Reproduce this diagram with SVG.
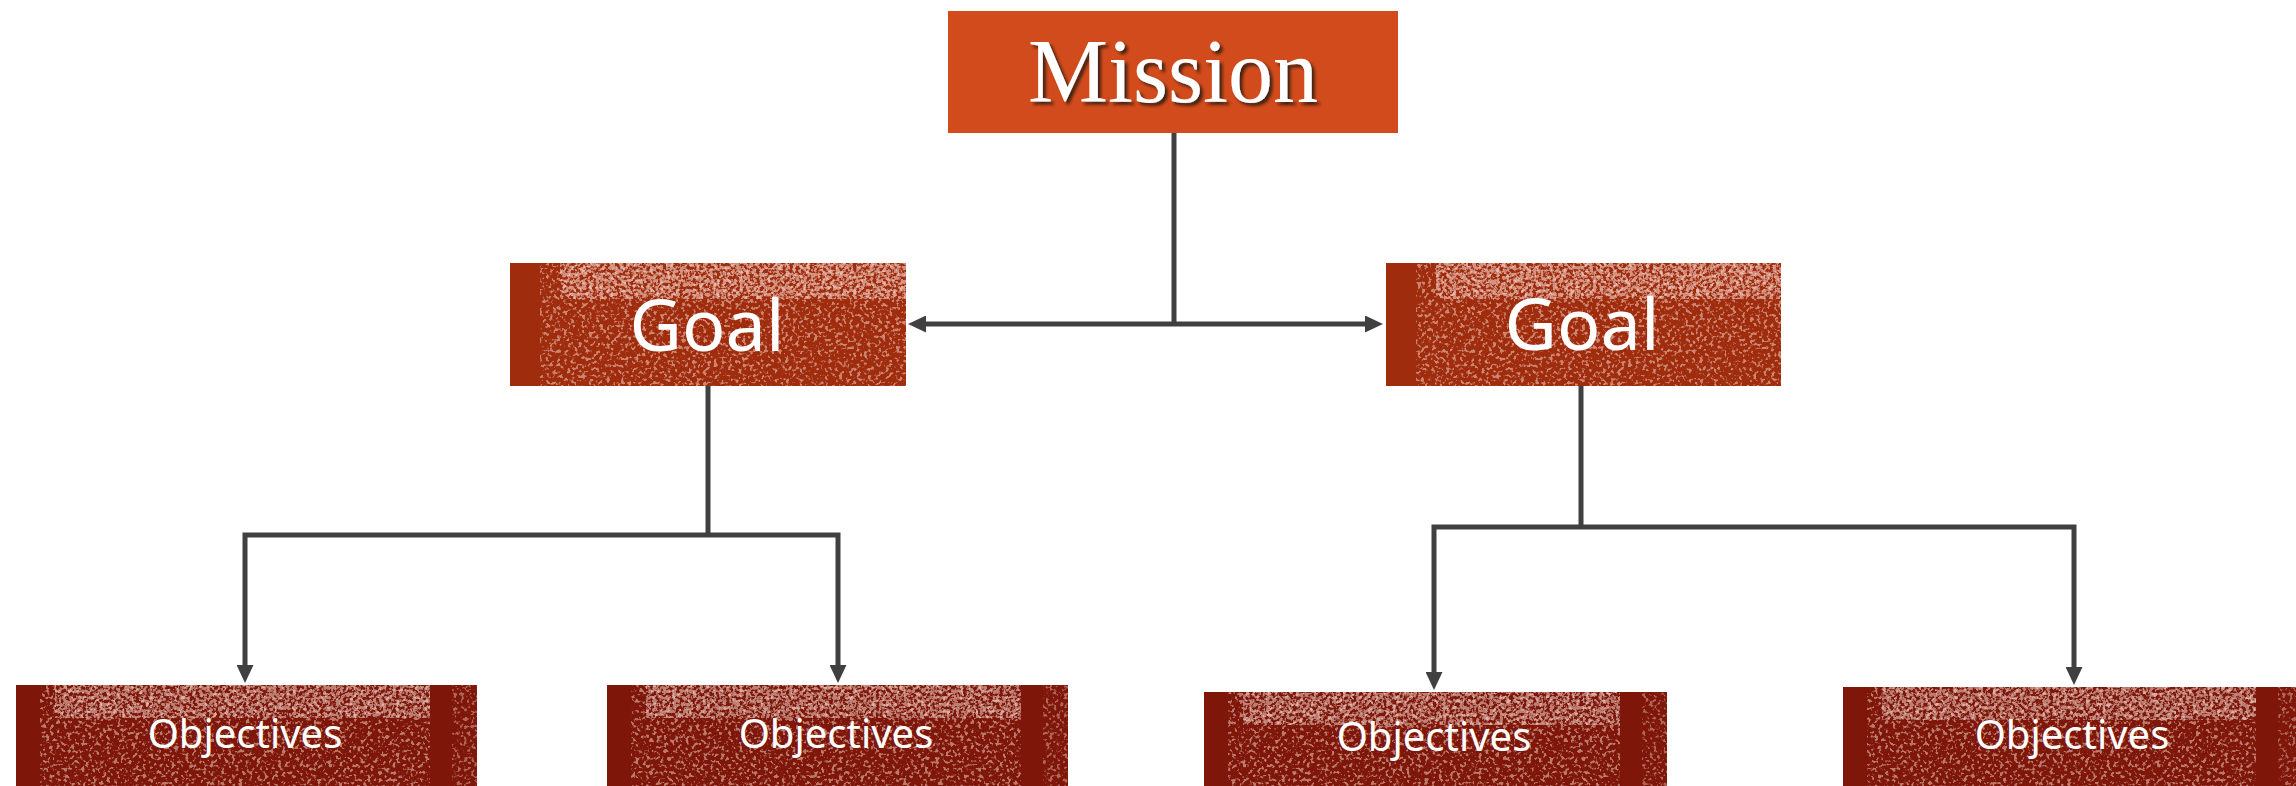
<svg xmlns="http://www.w3.org/2000/svg" width="2296" height="786" viewBox="0 0 2296 786">
<style>
.conn{fill:none;stroke:#404040;stroke-width:5;stroke-linejoin:miter}
.mission{fill:#D24B1C}
.goalbase{fill:#A02C0E}
.objbase{fill:#7E1709}
.lbl{fill:#FFFFFF;text-anchor:middle}
.goaltxt{font-family:"Noto Sans","Open Sans","Liberation Sans",sans-serif;font-size:72px}
.objtxt{font-family:"Noto Sans","Open Sans","Liberation Sans",sans-serif;font-size:40px}
.mtxt{font-family:"Liberation Serif","DejaVu Serif",serif;font-size:90px}
</style>
<defs>
<filter id="grain" x="0" y="0" width="1" height="1">
<feTurbulence type="fractalNoise" baseFrequency="0.28" numOctaves="2" seed="7"/>
<feColorMatrix type="matrix" values="0 0 0 0 0.96  0 0 0 0 0.72  0 0 0 0 0.64  8 0 0 0 -4.3"/>
<feComposite in2="SourceGraphic" operator="in"/>
</filter>
<filter id="grainHi" x="0" y="0" width="1" height="1">
<feTurbulence type="fractalNoise" baseFrequency="0.3" numOctaves="2" seed="11"/>
<feColorMatrix type="matrix" values="0 0 0 0 0.98  0 0 0 0 0.8  0 0 0 0 0.74  8 0 0 0 -3.5"/>
<feComposite in2="SourceGraphic" operator="in"/>
</filter>
<filter id="tshadow" x="-5%" y="-5%" width="115%" height="130%">
<feGaussianBlur in="SourceAlpha" stdDeviation="1.5"/>
<feOffset dx="3" dy="3" result="b"/>
<feFlood flood-color="#2a1a10" flood-opacity="0.85"/>
<feComposite in2="b" operator="in"/>
<feMerge><feMergeNode/><feMergeNode in="SourceGraphic"/></feMerge>
</filter>
<marker id="arr" markerUnits="userSpaceOnUse" markerWidth="18" markerHeight="17" refX="6" refY="8.5" orient="auto">
<path d="M0,0 L18,8.5 L0,17 z" fill="#404040"/>
</marker>
</defs>
<rect width="2296" height="786" fill="#FFFFFF"/>

<g id="connectors">
<path class="conn" d="M1174,133 V324"/>
<path class="conn" d="M1174,324 H920" marker-end="url(#arr)"/>
<path class="conn" d="M1174,324 H1371" marker-end="url(#arr)"/>
<path class="conn" d="M708,386 V535"/>
<path class="conn" d="M708,535 H245 V671" marker-end="url(#arr)"/>
<path class="conn" d="M708,535 H838 V671" marker-end="url(#arr)"/>
<path class="conn" d="M1581,386 V527"/>
<path class="conn" d="M1581,527 H1434 V678" marker-end="url(#arr)"/>
<path class="conn" d="M1581,527 H2074 V673" marker-end="url(#arr)"/>
</g>

<g id="mission">
<rect class="mission" x="948" y="11" width="450" height="122"/>
<text class="lbl mtxt" x="1173" y="102" filter="url(#tshadow)">Mission</text>
</g>

<g id="goal-left">
<rect class="goalbase" x="510" y="263" width="396" height="123"/>
<rect x="540" y="263" width="366" height="123" fill="#fff" filter="url(#grain)" opacity="0.5"/>
<rect x="560" y="263" width="346" height="36" fill="#fff" filter="url(#grainHi)" opacity="0.55"/>
<text class="lbl goaltxt" x="707" y="351">Goal</text>
</g>

<g id="goal-right">
<rect class="goalbase" x="1386" y="263" width="395" height="123"/>
<rect x="1416" y="263" width="365" height="123" fill="#fff" filter="url(#grain)" opacity="0.5"/>
<rect x="1436" y="263" width="345" height="36" fill="#fff" filter="url(#grainHi)" opacity="0.55"/>
<text class="lbl goaltxt" x="1582" y="350">Goal</text>
</g>

<g id="objective-1">
<rect class="objbase" x="16" y="685" width="461" height="101"/>
<rect x="40" y="685" width="390" height="101" fill="#fff" filter="url(#grain)" opacity="0.5"/>
<rect x="452" y="685" width="25" height="101" fill="#fff" filter="url(#grain)" opacity="0.4"/>
<rect x="55" y="685" width="375" height="33" fill="#fff" filter="url(#grainHi)" opacity="0.5"/>
<text class="lbl objtxt" x="245" y="748">Objectives</text>
</g>

<g id="objective-2">
<rect class="objbase" x="607" y="685" width="461" height="101"/>
<rect x="631" y="685" width="390" height="101" fill="#fff" filter="url(#grain)" opacity="0.5"/>
<rect x="1043" y="685" width="25" height="101" fill="#fff" filter="url(#grain)" opacity="0.4"/>
<rect x="646" y="685" width="375" height="33" fill="#fff" filter="url(#grainHi)" opacity="0.5"/>
<text class="lbl objtxt" x="836" y="748">Objectives</text>
</g>

<g id="objective-3">
<rect class="objbase" x="1204" y="692" width="463" height="94"/>
<rect x="1228" y="692" width="392" height="94" fill="#fff" filter="url(#grain)" opacity="0.5"/>
<rect x="1642" y="692" width="25" height="94" fill="#fff" filter="url(#grain)" opacity="0.4"/>
<rect x="1243" y="692" width="377" height="33" fill="#fff" filter="url(#grainHi)" opacity="0.5"/>
<text class="lbl objtxt" x="1434" y="751">Objectives</text>
</g>

<g id="objective-4">
<rect class="objbase" x="1843" y="687" width="460" height="99"/>
<rect x="1867" y="687" width="389" height="99" fill="#fff" filter="url(#grain)" opacity="0.5"/>
<rect x="2278" y="687" width="18" height="99" fill="#fff" filter="url(#grain)" opacity="0.4"/>
<rect x="1882" y="687" width="374" height="33" fill="#fff" filter="url(#grainHi)" opacity="0.5"/>
<text class="lbl objtxt" x="2072" y="749">Objectives</text>
</g>
</svg>
